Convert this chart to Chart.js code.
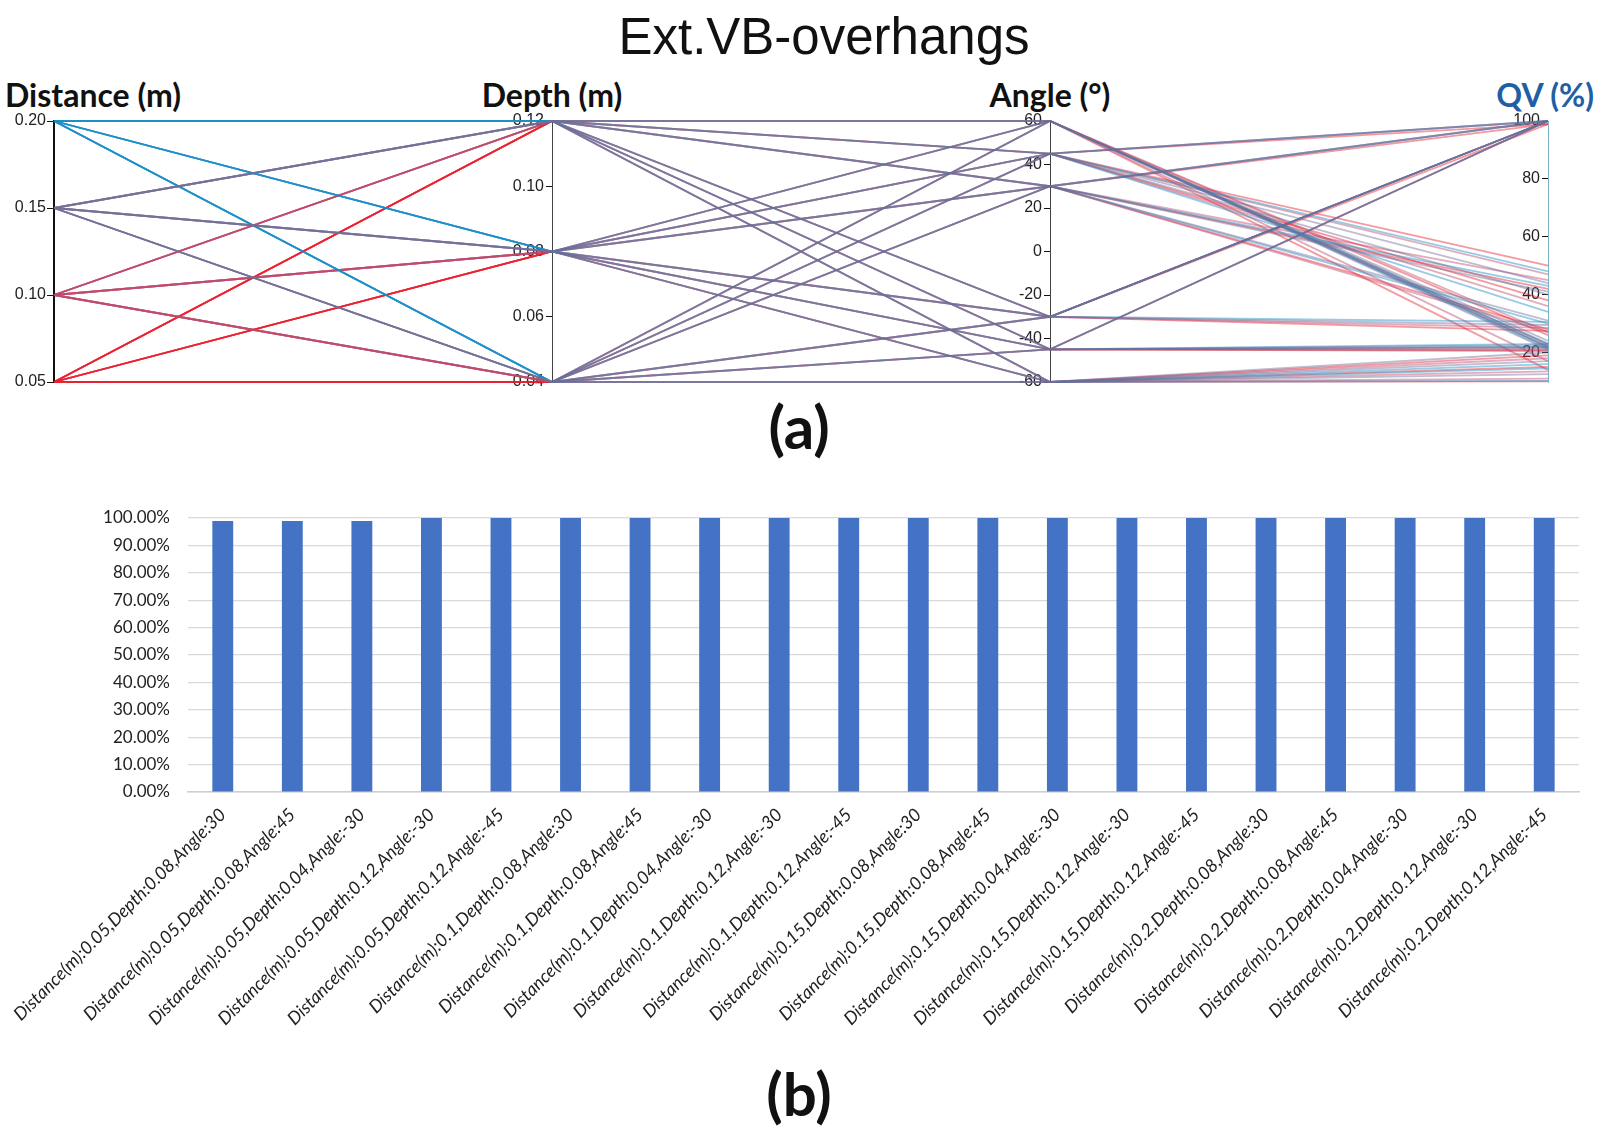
<!DOCTYPE html>
<html><head><meta charset="utf-8">
<script src="https://cdn.jsdelivr.net/npm/chart.js@4/dist/chart.umd.min.js"></script>
<style>
html,body{margin:0;padding:0;background:#fff;width:1600px;height:1138px;overflow:hidden;position:relative}
.t{position:absolute;white-space:nowrap;line-height:1}
.box{position:absolute;left:0;width:1600px}
</style></head><body>
<div class="t" style="left:24px;width:1600px;top:7px;text-align:center;font:51px 'Liberation Sans',Arial,sans-serif;color:#111">Ext.VB-overhangs</div>
<div class="t" style="left:5px;top:75px;font:bold 32px Lato,sans-serif;color:#111">Distance (m)</div>
<div class="t" style="left:352px;width:400px;text-align:center;top:75px;font:bold 32px Lato,sans-serif;color:#111">Depth (m)</div>
<div class="t" style="left:850px;width:400px;text-align:center;top:75px;font:bold 32px Lato,sans-serif;color:#111">Angle (°)</div>
<div class="t" style="left:1194px;width:400px;text-align:right;top:75px;font:bold 32px Lato,sans-serif;color:#1f5fa6">QV (%)</div>
<div class="t" style="left:0;width:1598px;text-align:center;top:390px;font:bold 60px Lato,sans-serif;color:#111">(a)</div>
<div class="t" style="left:0;width:1598px;text-align:center;top:1057px;font:bold 60px Lato,sans-serif;color:#111">(b)</div>
<div class="box" style="top:95px;height:310px"><canvas id="c1"></canvas></div>
<div class="box" style="top:480px;height:560px"><canvas id="c2"></canvas></div>
<script>
// ---------- Data (a): parallel coordinates ----------
const distanceLevels = [0.05, 0.10, 0.15, 0.20];
const depthLevels = [0.04, 0.08, 0.12];
const angleLevels = [-60, -45, -30, 30, 45, 60];
// QV (%) per distance; rows = depth 0.04/0.08/0.12, columns = angles -60,-45,-30,30,45,60
const qvDist005 = [[10, 20.5, 98.9, 42, 50, 26], [15, 21.8, 27.5, 98.9, 98.9, 22], [19, 100, 100, 28, 38, 14]];
const qvDist010 = [[11, 21, 100, 45, 47, 27], [13.5, 20.8, 28.5, 100, 100, 23], [18, 100, 100, 27, 36, 17]];
const qvDist015 = [[12.5, 21.5, 100, 41, 44, 24], [17, 22.5, 29.5, 100, 100, 22.5], [20, 100, 100, 31, 40, 21]];
const qvDist020 = [[10.2, 22, 100, 43, 48, 22], [16, 23, 30.6, 100, 100, 21.5], [14.5, 100, 100, 30, 34, 23]];
const qvByDistance = [qvDist005, qvDist010, qvDist015, qvDist020];
const distanceColors = ['rgba(232,28,44,0.45)', 'rgba(188,72,104,0.45)', 'rgba(112,108,148,0.45)', 'rgba(24,140,200,0.45)'];
const distanceDrawOrder = [3, 2, 0, 1];
const distTicks = [0.05, 0.10, 0.15, 0.20];
const depthTicks = [0.04, 0.06, 0.08, 0.10, 0.12];
const angleTicks = [-60, -40, -20, 0, 20, 40, 60];
const qvTicks = [20, 40, 60, 80, 100];
const axisRanges = [[0.05, 0.20], [0.04, 0.12], [-60, 60], [9.8, 100]];

// ---------- Data (b): bar chart ----------
const barLabels = [
 'Distance(m):0.05,Depth:0.08,Angle:30','Distance(m):0.05,Depth:0.08,Angle:45','Distance(m):0.05,Depth:0.04,Angle:-30',
 'Distance(m):0.05,Depth:0.12,Angle:-30','Distance(m):0.05,Depth:0.12,Angle:-45','Distance(m):0.1,Depth:0.08,Angle:30',
 'Distance(m):0.1,Depth:0.08,Angle:45','Distance(m):0.1,Depth:0.04,Angle:-30','Distance(m):0.1,Depth:0.12,Angle:-30',
 'Distance(m):0.1,Depth:0.12,Angle:-45','Distance(m):0.15,Depth:0.08,Angle:30','Distance(m):0.15,Depth:0.08,Angle:45',
 'Distance(m):0.15,Depth:0.04,Angle:-30','Distance(m):0.15,Depth:0.12,Angle:-30','Distance(m):0.15,Depth:0.12,Angle:-45',
 'Distance(m):0.2,Depth:0.08,Angle:30','Distance(m):0.2,Depth:0.08,Angle:45','Distance(m):0.2,Depth:0.04,Angle:-30',
 'Distance(m):0.2,Depth:0.12,Angle:-30','Distance(m):0.2,Depth:0.12,Angle:-45'];
const barValues = [98.9, 98.9, 98.9, 100, 100, 100, 100, 100, 100, 100, 100, 100, 100, 100, 100, 100, 100, 100, 100, 100];
const barTicks = [0, 10, 20, 30, 40, 50, 60, 70, 80, 90, 100];

// ---------- Build parallel chart ----------
function norm(v, k) { const r = axisRanges[k]; return (v - r[0]) / (r[1] - r[0]); }
const pcDatasets = [];
distanceLevels.forEach((dist, di) => {
  depthLevels.forEach((dep, pi) => {
    angleLevels.forEach((ang, ai) => {
      const qv = qvByDistance[di][pi][ai];
      pcDatasets.push({
        data: [{x: 0, y: norm(dist, 0)}, {x: 1, y: norm(dep, 1)}, {x: 2, y: norm(ang, 2)}, {x: 3, y: norm(qv, 3)}],
        borderColor: distanceColors[di], borderWidth: 1.8, pointRadius: 0, fill: false, tension: 0,
        order: distanceDrawOrder[di], xAxisID: 'x', yAxisID: 'yn', clip: false
      });
    });
  });
});
const tickFont = {family: "'Liberation Sans', Arial, sans-serif", size: 16};
function visAxis(i, ticks, fmt, borderColor, borderWidth) {
  return {
    type: 'linear', axis: 'y', position: {x: i}, min: axisRanges[i][0], max: axisRanges[i][1],
    afterBuildTicks: s => { s.ticks = ticks.map(v => ({value: v})); },
    ticks: {callback: v => fmt(v) + '\u2002', font: tickFont, color: '#222', padding: 3},
    grid: {drawOnChartArea: false, drawTicks: true, tickLength: 6, color: '#111', tickWidth: 1},
    border: {display: true, color: borderColor, width: borderWidth}
  };
}
new Chart(document.getElementById('c1'), {
  type: 'line',
  data: {datasets: pcDatasets},
  options: {
    responsive: true, maintainAspectRatio: false, animation: false,
    layout: {padding: {left: 54, right: 52, top: 26, bottom: 23}},
    plugins: {legend: {display: false}, tooltip: {enabled: false}},
    scales: {
      x: {type: 'linear', min: 0, max: 3, display: false},
      yn: {type: 'linear', axis: 'y', min: 0, max: 1, display: false},
      yDist: visAxis(0, distTicks, v => v.toFixed(2), '#111', 2),
      yDepth: visAxis(1, depthTicks, v => v.toFixed(2), '#444', 1),
      yAngle: visAxis(2, angleTicks, v => String(v), '#444', 1),
      yQV: visAxis(3, qvTicks, v => String(v), '#7fb3c9', 1)
    }
  }
});

// ---------- Build bar chart ----------
new Chart(document.getElementById('c2'), {
  type: 'bar',
  data: {labels: barLabels, datasets: [{data: barValues, backgroundColor: '#4472c4', barPercentage: 0.30, categoryPercentage: 1}]},
  options: {
    responsive: true, maintainAspectRatio: false, animation: false,
    layout: {padding: {left: 0, right: 21, top: 38, bottom: 0}},
    plugins: {legend: {display: false}, tooltip: {enabled: false}},
    scales: {
      x: {
        afterFit: s => { s.height = 248; },
        grid: {display: false},
        border: {display: true, color: '#cfcfcf', width: 1.5},
        ticks: {maxRotation: 45, minRotation: 45, autoSkip: false, font: {family: 'Lato, sans-serif', size: 18, style: 'italic'}, color: '#222', padding: 4}
      },
      y: {
        min: 0, max: 100,
        afterFit: s => { s.width = 188; },
        afterBuildTicks: s => { s.ticks = barTicks.map(v => ({value: v})); },
        grid: {color: '#d9d9d9', lineWidth: 1.2, drawTicks: false},
        border: {display: false},
        ticks: {callback: v => v.toFixed(2) + '%', font: {family: 'Lato, sans-serif', size: 17}, color: '#222', padding: 18}
      }
    }
  }
});
</script>
</body></html>
